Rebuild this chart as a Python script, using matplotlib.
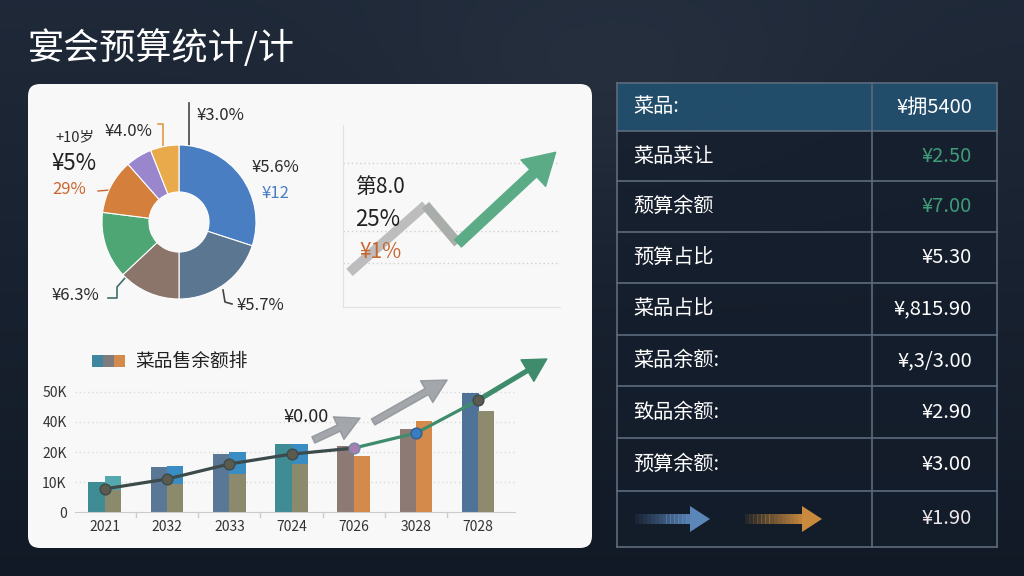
import numpy as np
import matplotlib
matplotlib.use("Agg")
import matplotlib.pyplot as plt
from matplotlib.patches import FancyBboxPatch, Rectangle, FancyArrowPatch, Polygon

plt.rcParams['font.family'] = ['Noto Sans CJK SC', 'DejaVu Sans']

W, H = 1024, 576

TITLE = "宴会预算统计/计"

# donut data
pie_values = [30, 20, 13, 14, 11.5, 5.5, 6]
pie_colors = ['#4a7ec2', '#5b7690', '#8b7469', '#4da674', '#d4803c', '#9a86cc', '#e9aa4c']

# small trend chart
trend_x = [0.3, 3.8, 5.3, 9.8]
trend_y = [1.9, 5.6, 3.5, 8.5]
trend_grid = [2.4, 4.2, 7.9]

# bar chart
years = ['2021', '2032', '2033', '7024', '7026', '3028', '7028']
bar_left = [10, 15, 19.3, 22.7, 22, 27.7, 39.7]
bar_back = [12, 15.3, 20, 22.7, 0, 0, 0]
bar_front = [7.3, 9.3, 12.7, 16, 18.7, 30.3, 33.7]
line_vals = [7.7, 11, 16, 19.3, 21.3, 26.3, 37.3]
line_tip = (7.1, 51)
left_colors = ['#3f8c95', '#5a7896', '#5a7896', '#3f8c95', '#8d7a75', '#8d7a75', '#4f7398']
back_colors = ['#55a8ae', '#3a8dc2', '#3a8dc2', '#3a8dc2', '#3a8dc2', '#3a8dc2', '#3a8dc2']
front_colors = ['#8b8a6c', '#8b8a6c', '#8b8a6c', '#8b8a6c', '#d38a4a', '#d38a4a', '#8e8a6e']
y_ticks = [0, 10, 20, 30, 40]
y_ticklabels = ['0', '10K', '20K', '40K', '50K']
gray_arrows = [((3.35, 24), (4.1, 31.3)), ((4.31, 30), (5.5, 44))]

# table
table_labels = ['菜品:', '菜品菜让', '颓算余额', '预算占比', '菜品占比',
                '菜品余额:', '致品余额:', '预算余额:', '']
table_values = ['¥拥5400', '¥2.50', '¥7.00', '¥5.30', '¥,815.90',
                '¥,3/3.00', '¥2.90', '¥3.00', '¥1.90']
value_colors = ['white', '#3f9c78', '#3f9c78', 'white', 'white',
                'white', 'white', 'white', '#f0e6ea']
row_edges = [83, 131, 181, 232, 283, 335, 386, 438, 491, 547]


def px_axes(fig, x0, y0, x1, y1):
    return fig.add_axes([x0 / W, 1 - y1 / H, (x1 - x0) / W, (y1 - y0) / H])


fig = plt.figure(figsize=(W / 100, H / 100), dpi=100)

# background and overlay in pixel coordinates
bg = px_axes(fig, 0, 0, W, H)
bg.set_xlim(0, W)
bg.set_ylim(H, 0)
bg.axis('off')
gy = np.linspace(0, 1, 120)[:, None]
gx = np.linspace(0, 1, 200)[None, :]
top = np.array([0.12, 0.16, 0.22])
bot = np.array([0.07, 0.10, 0.15])
img = top * (1 - gy[..., None]) + bot * gy[..., None]
img = img + 0.03 * np.exp(-((gx - 0.6) ** 2 / 0.05 + (gy - 0.15) ** 2 / 0.05))[..., None]
img = np.broadcast_to(img, (120, 200, 3))
bg.imshow(np.clip(img, 0, 1), extent=[0, W, H, 0], aspect='auto', zorder=0)

bg.text(28, 48, TITLE, color='white', fontsize=26, va='center', ha='left', fontweight='medium')

panel = FancyBboxPatch((28, 84), 564, 464, boxstyle="round,pad=0,rounding_size=12",
                       facecolor='#f8f8f8', edgecolor='none', zorder=1)
bg.add_patch(panel)

# donut labels and leader lines
lab_col = '#2b2b2b'
bg.text(55, 137, '+10岁', fontsize=10.5, color=lab_col, va='center', zorder=3)
bg.text(105, 131, '¥4.0%', fontsize=12, color=lab_col, va='center', zorder=3)
bg.plot([158, 163, 163], [124, 124, 152], color='#e39a45', lw=1.2, zorder=3)
bg.text(197, 115, '¥3.0%', fontsize=12, color=lab_col, va='center', zorder=3)
bg.plot([189, 189], [103, 146], color='#444444', lw=1.2, zorder=3)
bg.text(51, 163, '¥5%', fontsize=16, color='#222222', va='center', zorder=3)
bg.text(52, 190, '29%', fontsize=12, color='#c8662f', va='center', zorder=3)
bg.plot([98, 110, 112], [191, 190, 199], color='#c8662f', lw=1, zorder=3)
bg.text(252, 168, '¥5.6%', fontsize=12, color=lab_col, va='center', zorder=3)
bg.text(262, 193, '¥12', fontsize=12, color='#4a7ec2', va='center', zorder=3)
bg.text(52, 296, '¥6.3%', fontsize=12, color=lab_col, va='center', zorder=3)
bg.plot([108, 117, 117, 125], [298, 298, 287, 278], color='#3f6f6a', lw=1.2, zorder=3)
bg.text(237, 306, '¥5.7%', fontsize=12, color=lab_col, va='center', zorder=3)
bg.plot([223, 225, 232], [290, 302, 304], color='#444444', lw=1.2, zorder=3)

# table
tx0, tx1, tdiv = 617, 997, 872
for i, (lab, val, vc) in enumerate(zip(table_labels, table_values, value_colors)):
    y0, y1 = row_edges[i], row_edges[i + 1]
    fc = '#22506f' if i == 0 else '#141d2b'
    bg.add_patch(Rectangle((tx0, y0), tx1 - tx0, y1 - y0, facecolor=fc,
                           alpha=0.92 if i == 0 else 0.7, edgecolor='none', zorder=2))
    ym = (y0 + y1) / 2
    bg.text(633, ym, lab, color='white', fontsize=14.5, va='center', ha='left',
            fontweight='medium', zorder=4)
    bg.text(972, ym, val, color=vc, fontsize=14.5, va='center', ha='right', zorder=4)
for y in row_edges:
    bg.plot([tx0, tx1], [y, y], color='#5d6b7c', lw=1.2, zorder=3)
bg.plot([tx0, tx0], [row_edges[0], row_edges[-1]], color='#5d6b7c', lw=1.2, zorder=3)
bg.plot([tx1, tx1], [row_edges[0], row_edges[-1]], color='#5d6b7c', lw=1.2, zorder=3)
bg.plot([tdiv, tdiv], [row_edges[0], row_edges[-1]], color='#5d6b7c', lw=1.2, zorder=3)

# gradient arrows in last row
ay = (row_edges[-2] + row_edges[-1]) / 2
for x0, x1, col in [(635, 710, '#5b86b8'), (745, 822, '#c98a3e')]:
    head = 20
    n = 14
    seg = (x1 - head - x0) / n
    for k in range(n):
        bg.add_patch(Rectangle((x0 + k * seg, ay - 5), seg + 0.5, 10, facecolor=col,
                               alpha=0.1 + 0.9 * k / n, edgecolor='none', zorder=4))
    bg.add_patch(Polygon([[x1 - head, ay - 13], [x1, ay], [x1 - head, ay + 13]],
                         facecolor=col, edgecolor='none', zorder=4))

# donut chart
axp = px_axes(fig, 102, 145, 256, 299)
axp.set_facecolor('none')
axp.pie(pie_values, colors=pie_colors, startangle=90, counterclock=False, radius=1,
        wedgeprops=dict(width=0.61, edgecolor='white', linewidth=0.8))
axp.set_xlim(-1, 1)
axp.set_ylim(-1, 1)
axp.set_aspect('auto')

# small trend chart
axt = px_axes(fig, 343, 125, 560, 307)
axt.set_facecolor('none')
axt.set_xlim(0, 10)
axt.set_ylim(0, 10)
for g in trend_grid:
    axt.axhline(g, color='#d0d0d0', lw=1, ls=(0, (1, 2)))
for s in ['top', 'right']:
    axt.spines[s].set_visible(False)
for s in ['left', 'bottom']:
    axt.spines[s].set_color('#e2e2e2')
axt.set_xticks([])
axt.set_yticks([])
axt.plot(trend_x[:2], trend_y[:2], color='#bdbdbd', lw=7, solid_capstyle='butt', zorder=3)
axt.plot(trend_x[1:3], trend_y[1:3], color='#a9aeab', lw=7, solid_capstyle='butt', zorder=3)
axt.add_patch(FancyArrowPatch((trend_x[2], trend_y[2]), (trend_x[3], trend_y[3]),
                              arrowstyle='simple,head_width=2.6,head_length=2.2,tail_width=0.72',
                              mutation_scale=10, color='#5cab87', shrinkA=0, shrinkB=0,
                              zorder=4, clip_on=False))

# bar chart
axb = px_axes(fig, 75, 345, 515, 512)
axb.set_facecolor('none')
axb.set_xlim(-0.48, 6.59)
axb.set_ylim(0, 167 / 3)
x = np.arange(len(years))
axb.bar(x - 0.13, bar_left, width=0.27, color=left_colors, zorder=2)
axb.bar(x + 0.13, bar_back, width=0.26, color=back_colors, zorder=2)
axb.bar(x + 0.13, bar_front, width=0.26, color=front_colors, zorder=3)
for t in y_ticks[1:]:
    axb.axhline(t, color='#dcdcdc', lw=1, ls=(0, (1, 2)), zorder=1)
axb.set_yticks(y_ticks)
axb.set_yticklabels(y_ticklabels, fontsize=10, color='#333333')
axb.set_xticks(x)
axb.set_xticklabels(years, fontsize=10, color='#333333')
axb.tick_params(axis='both', length=0, pad=6)
for s in ['top', 'right', 'left']:
    axb.spines[s].set_visible(False)
axb.spines['bottom'].set_color('#cccccc')
for b in x[:-1] + 0.5:
    axb.plot([b, b], [0, -1.5], color='#cccccc', lw=1, clip_on=False)
axb.plot(x[:5], line_vals[:5], color='#3d4a4a', lw=2.3, zorder=5)
axb.plot(x[4:], line_vals[4:], color='#3f8c6c', lw=2.3, zorder=5)
axb.scatter(x[:4], line_vals[:4], s=60, color='#5b5a4e', edgecolor='#3d4a4a', zorder=6)
axb.scatter(x[4], line_vals[4], s=60, color='#a77fae', edgecolor='#6f8aa8', zorder=6)
axb.scatter(x[5], line_vals[5], s=60, color='#3a7cc0', edgecolor='#2f5f90', zorder=6)
axb.scatter(x[6], line_vals[6], s=60, color='#5b5a4e', edgecolor='#3d4a4a', zorder=6)
axb.add_patch(FancyArrowPatch((x[6], line_vals[6]), line_tip,
                              arrowstyle='simple,head_width=2.0,head_length=1.8,tail_width=0.3',
                              mutation_scale=9, color='#3f8c6c', shrinkA=0, shrinkB=0,
                              zorder=5, clip_on=False))
for start, end in gray_arrows:
    axb.add_patch(FancyArrowPatch(start, end,
                                  arrowstyle='simple,head_width=1.8,head_length=1.7,tail_width=0.5',
                                  mutation_scale=10, color='#878c92', alpha=0.75,
                                  shrinkA=0, shrinkB=0, zorder=4, clip_on=False))
axb.text(3.23, 31.7, '¥0.00', fontsize=13, color='#222222', ha='center', va='center', zorder=6)

# overlay for texts drawn on top of the charts
ov = px_axes(fig, 0, 0, W, H)
ov.set_xlim(0, W)
ov.set_ylim(H, 0)
ov.axis('off')
ov.patch.set_alpha(0)
ov.text(355, 187, '第8.0', fontsize=15, color='#222222', va='center')
ov.text(355, 219, '25%', fontsize=16, color='#222222', va='center')
ov.text(360, 252, '¥1%', fontsize=15, color='#c8662f', va='center')

# legend for the bar chart
for xx, col in [(92, '#3f86a0'), (103, '#7d7b7d'), (114, '#d38a4a')]:
    ov.add_patch(Rectangle((xx, 355), 11, 12, facecolor=col, edgecolor='none'))
ov.text(135, 361, '菜品售余额排', fontsize=13.5, color='#222222', va='center')

fig.savefig('out.png', dpi=100)
